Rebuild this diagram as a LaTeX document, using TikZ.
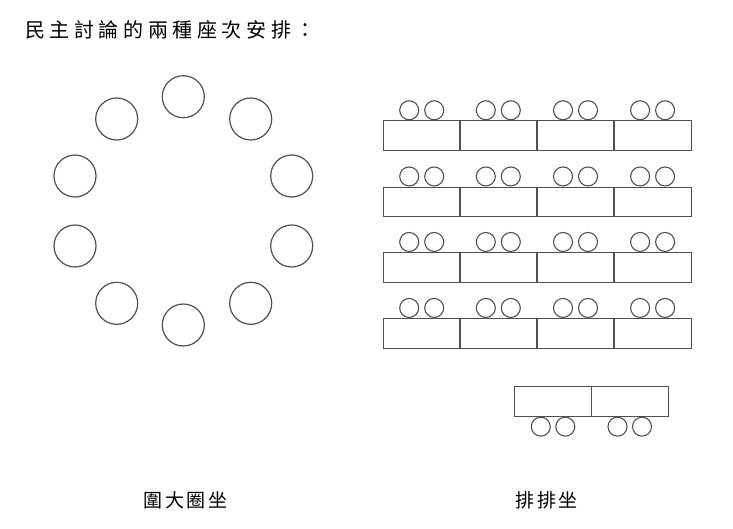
\documentclass[tikz,border=0pt]{standalone}
\usepackage{fontspec}
\newfontfamily\cjk{Noto Sans CJK TC}
\tikzset{
  seat/.style={circle,draw=linegray,line width=1.2pt,minimum size=42pt,inner sep=0pt},
  smallseat/.style={circle,draw=linegray,line width=1.1pt,minimum size=19pt,inner sep=0pt},
  desk/.style={rectangle,draw=linegray,line width=1.1pt,minimum width=77pt,minimum height=29.5pt,inner sep=0pt},
  titletext/.style={inner sep=0pt,anchor=west,font=\cjk\fontsize{20pt}{20pt}\selectfont\addfontfeature{LetterSpace=23}},
  labeltext/.style={inner sep=0pt,anchor=west,font=\cjk\fontsize{19pt}{19pt}\selectfont\addfontfeature{LetterSpace=15}}
}
\definecolor{linegray}{HTML}{505050}
\begin{document}
\begin{tikzpicture}[x=1pt,y=-1pt]
\useasboundingbox (0,0) rectangle (733,528);
% title
\node[titletext] (title) at (25,30) {民主討論的兩種座次安排：};
% circle arrangement
\node[seat] (c1) at (183.3,96.7) {};
\node[seat] (c2) at (250.7,119) {};
\node[seat] (c3) at (291.7,176) {};
\node[seat] (c4) at (291.7,246) {};
\node[seat] (c5) at (250.7,303.3) {};
\node[seat] (c6) at (183.3,325) {};
\node[seat] (c7) at (116.7,303.3) {};
\node[seat] (c8) at (75,246) {};
\node[seat] (c9) at (75,176) {};
\node[seat] (c10) at (116.7,119) {};
% rows of desks
\foreach \r/\y in {1/135.6,2/201.8,3/267.3,4/333.3}{
  \foreach \k/\x in {1/421.7,2/498.3,3/575.5,4/652.6}{
    \node[desk] (d\r\k) at (\x,\y) {};
    \node[smallseat,anchor=south] (s\r\k a) at ([xshift=-12.5pt]d\r\k.north) {};
    \node[smallseat,anchor=south] (s\r\k b) at ([xshift=12.5pt]d\r\k.north) {};
  }
}
% front desk
\node[desk] (f1) at (552.8,401.3) {};
\node[desk] (f2) at (630,401.3) {};
\node[smallseat,anchor=north] (fs1) at ([xshift=-12pt]f1.south) {};
\node[smallseat,anchor=north] (fs2) at ([xshift=12.5pt]f1.south) {};
\node[smallseat,anchor=north] (fs3) at ([xshift=-12.5pt]f2.south) {};
\node[smallseat,anchor=north] (fs4) at ([xshift=12pt]f2.south) {};
% labels
\node[labeltext] (lab1) at (143,500) {圍大圈坐};
\node[labeltext] (lab2) at (515,500) {排排坐};
\end{tikzpicture}
\end{document}
